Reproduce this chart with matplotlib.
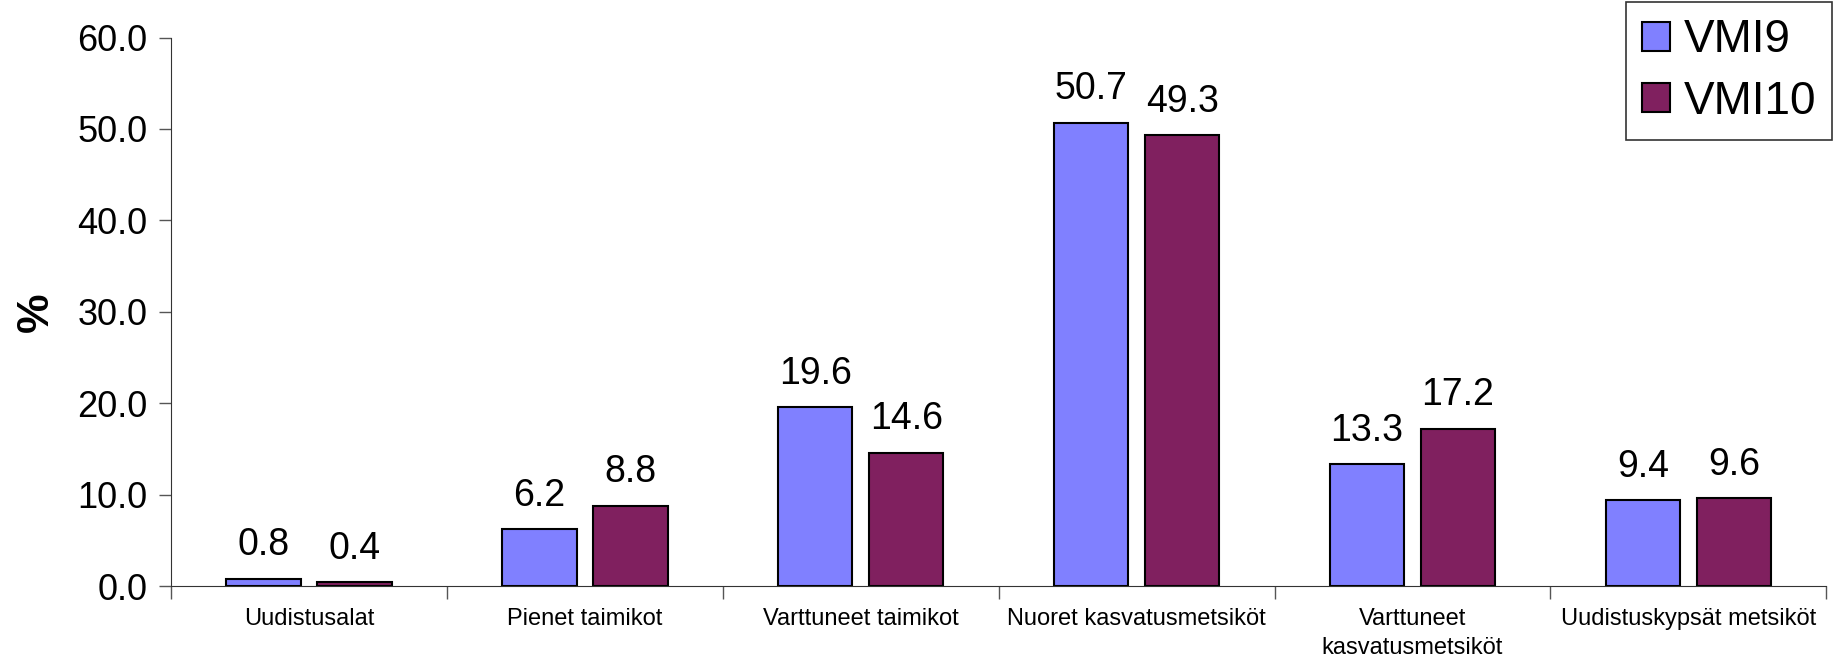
import matplotlib.pyplot as plt
import numpy as np

# data
categories = ["Uudistusalat", "Pienet taimikot", "Varttuneet taimikot",
              "Nuoret kasvatusmetsiköt", "Varttuneet\nkasvatusmetsiköt",
              "Uudistuskypsät metsiköt"]
vmi9 = [0.8, 6.2, 19.6, 50.7, 13.3, 9.4]
vmi10 = [0.4, 8.8, 14.6, 49.3, 17.2, 9.6]

plt.rcParams['font.family'] = ['Liberation Sans', 'DejaVu Sans']

fig = plt.figure(figsize=(18.41, 6.58), dpi=100)
ax = fig.add_axes([0.0929, 0.1094, 0.8991, 0.8336])

x = np.arange(len(categories))
w = 0.27
gap = 0.06
b1 = ax.bar(x - (w + gap) / 2, vmi9, w, color='#8080FF', edgecolor='black',
            linewidth=1.5, label='VMI9')
b2 = ax.bar(x + (w + gap) / 2, vmi10, w, color='#80205F', edgecolor='black',
            linewidth=1.5, label='VMI10')

for bars in (b1, b2):
    for r in bars:
        ax.annotate(f"{r.get_height():.1f}",
                    (r.get_x() + r.get_width() / 2, r.get_height()),
                    xytext=(0, 11), textcoords='offset points',
                    ha='center', va='bottom', fontsize=27)

ax.set_xlim(-0.5, len(categories) - 0.5)
ax.set_ylim(0, 60)
ax.set_yticks(np.arange(0, 61, 10))
ax.set_yticklabels([f"{v:.1f}" for v in np.arange(0, 61, 10)], fontsize=26)

# category labels between boundary ticks
ax.set_xticks(np.arange(-0.5, len(categories), 1.0))
ax.set_xticklabels([])
ax.set_xticks(x, minor=True)
ax.set_xticklabels(categories, minor=True, fontsize=17, linespacing=1.4)
ax.tick_params(axis='x', which='minor', length=0, pad=16)
ax.tick_params(axis='x', which='major', length=9, width=1, color='#555555')
ax.tick_params(axis='y', length=9, width=1, color='#555555', pad=8)

for s in ('top', 'right'):
    ax.spines[s].set_visible(False)
ax.spines['left'].set_color('#333333')
ax.spines['bottom'].set_color('#333333')

ax.set_ylabel('%', fontsize=32, fontweight='bold')
ax.yaxis.set_label_coords(-0.069, 0.5)

leg = ax.legend(loc='upper right', bbox_to_anchor=(1.0036, 1.064), fontsize=33,
                frameon=True, fancybox=False, edgecolor='black',
                handlelength=0.6, handleheight=0.6, handletextpad=0.3,
                borderpad=0.35, labelspacing=0.38, borderaxespad=0)
leg.get_frame().set_linewidth(1.2)

fig.savefig('out.png', dpi=100)
